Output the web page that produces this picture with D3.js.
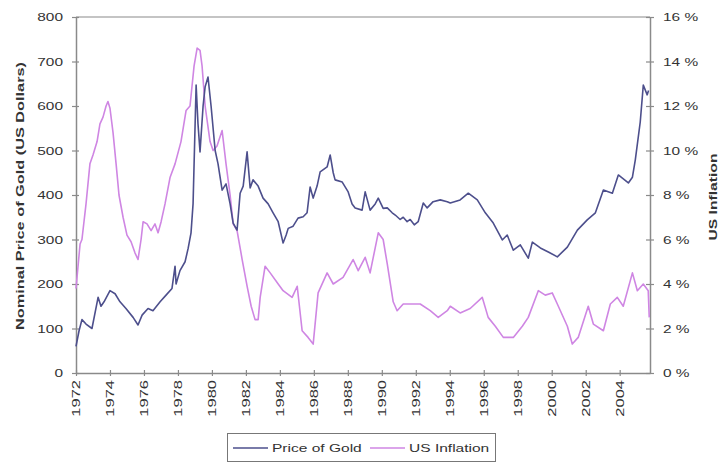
<!DOCTYPE html>
<html><head><meta charset="utf-8">
<script src="https://cdn.jsdelivr.net/npm/d3@7"></script>
<style>
html,body{margin:0;padding:0;background:#fff;}
svg{display:block;font-family:"Liberation Sans",Arial,sans-serif;}
</style></head>
<body><svg id="c" width="720" height="463"></svg>
<script>
const goldYear = [1972.00,1972.18,1972.35,1972.59,1972.94,1973.30,1973.47,1973.65,1974.00,1974.30,1974.59,1974.94,1975.36,1975.65,1975.89,1976.24,1976.53,1976.95,1977.30,1977.65,1977.83,1977.89,1978.12,1978.42,1978.60,1978.77,1978.89,1979.07,1979.18,1979.30,1979.48,1979.60,1979.77,1979.95,1980.19,1980.36,1980.60,1980.83,1981.07,1981.25,1981.48,1981.66,1981.84,1982.07,1982.25,1982.42,1982.72,1983.01,1983.31,1983.60,1983.90,1984.19,1984.37,1984.49,1984.78,1985.07,1985.37,1985.60,1985.78,1985.96,1986.19,1986.37,1986.78,1986.96,1987.14,1987.25,1987.67,1988.02,1988.25,1988.43,1988.84,1989.02,1989.31,1989.61,1989.79,1990.08,1990.32,1990.61,1990.79,1991.08,1991.26,1991.49,1991.67,1991.91,1992.14,1992.44,1992.67,1993.02,1993.44,1993.85,1994.03,1994.61,1995.09,1995.62,1996.09,1996.56,1997.09,1997.38,1997.74,1998.15,1998.62,1998.86,1999.33,1999.80,2000.33,2000.92,2001.51,2002.09,2002.57,2003.04,2003.57,2003.92,2004.51,2004.75,2004.92,2005.21,2005.39,2005.62,2005.70];
const goldPrice = [60,95,120,110,100,170,150,160,185,178,160,145,125,108,130,145,140,160,175,190,240,200,230,250,280,315,380,647,560,497,600,643,665,600,500,470,411,425,380,337,321,404,420,497,416,434,420,393,380,360,340,292,310,325,330,348,351,360,418,393,420,452,463,490,450,434,429,407,380,371,366,407,366,380,393,370,371,360,355,345,350,340,345,333,340,382,371,385,389,385,382,389,404,389,360,337,299,310,276,288,258,294,281,272,261,283,321,344,360,411,404,445,427,440,479,564,647,625,635];

const inflYear = [1972.00,1972.12,1972.24,1972.35,1972.59,1972.82,1973.00,1973.24,1973.41,1973.59,1973.77,1973.88,1974.00,1974.18,1974.36,1974.53,1974.77,1975.00,1975.24,1975.47,1975.65,1975.83,1975.95,1976.18,1976.42,1976.65,1976.83,1977.01,1977.24,1977.54,1977.83,1978.18,1978.48,1978.71,1978.95,1979.13,1979.30,1979.42,1979.60,1979.89,1980.07,1980.30,1980.60,1980.83,1981.07,1981.25,1981.48,1981.78,1982.07,1982.31,1982.54,1982.72,1982.84,1983.13,1983.43,1983.90,1984.19,1984.72,1985.02,1985.31,1985.66,1985.96,1986.25,1986.78,1987.14,1987.72,1988.31,1988.61,1989.02,1989.31,1989.79,1990.08,1990.32,1990.67,1990.90,1991.26,1992.26,1992.85,1993.32,1993.85,1994.03,1994.61,1995.20,1995.91,1996.26,1996.68,1997.15,1997.74,1998.27,1998.62,1999.21,1999.62,2000.03,2000.33,2000.92,2001.21,2001.56,2002.15,2002.45,2003.04,2003.45,2003.86,2004.21,2004.75,2005.04,2005.39,2005.68,2005.74];
const inflRate = [3.8,4.8,5.8,6.0,7.6,9.4,9.8,10.4,11.2,11.5,12.0,12.2,11.9,10.8,9.4,8.0,7.0,6.2,5.9,5.4,5.1,6.0,6.8,6.7,6.4,6.7,6.3,6.8,7.6,8.8,9.4,10.4,11.8,12.0,13.8,14.6,14.5,13.8,12.0,10.4,10.0,10.2,10.9,9.4,8.0,6.7,6.4,5.1,3.9,3.0,2.4,2.4,3.4,4.8,4.5,4.0,3.7,3.4,3.9,1.9,1.6,1.3,3.6,4.5,4.0,4.3,5.1,4.6,5.2,4.5,6.3,6.0,4.9,3.2,2.8,3.1,3.1,2.8,2.5,2.8,3.0,2.7,2.9,3.4,2.5,2.1,1.6,1.6,2.1,2.5,3.7,3.5,3.6,3.1,2.1,1.3,1.6,3.0,2.2,1.9,3.1,3.4,3.0,4.5,3.7,4.0,3.7,2.5];

const xTicks = d3.range(1972, 2005, 2);
const leftTicks = [0,100,200,300,400,500,600,700,800];
const rightTicks = [0,2,4,6,8,10,12,14,16];
const seriesNames = ["Price of Gold","US Inflation"];
const leftTitle = "Nominal Price of Gold (US Dollars)";
const rightTitle = "US Inflation";

const goldColor = "#4d4f8c", inflColor = "#cf86e3", axisColor = "#8a8a8a", textColor = "#333";
const L = 76, R = 650, T = 17, B = 373;

const svg = d3.select("#c");
const x = d3.scaleLinear().domain([1972, 1972 + (R - L) / 16.99]).range([L, R]);
const yL = d3.scaleLinear().domain([0, 800]).range([B, T]);
const yR = d3.scaleLinear().domain([0, 16]).range([B, T]);

function stretch(sel, f) {
  sel.each(function () {
    const w = this.getComputedTextLength();
    d3.select(this).attr("textLength", w * f).attr("lengthAdjust", "spacingAndGlyphs");
  });
}

// top border
svg.append("line").attr("x1", L).attr("x2", R).attr("y1", T).attr("y2", T)
  .attr("stroke", axisColor).attr("stroke-width", 1.2);

// left axis
const gL = svg.append("g").attr("transform", `translate(${L},0)`)
  .call(d3.axisLeft(yL).tickValues(leftTicks).tickSize(4).tickPadding(9).tickSizeOuter(0));
// right axis
const gR = svg.append("g").attr("transform", `translate(${R},0)`)
  .call(d3.axisRight(yR).tickValues(rightTicks).tickSize(4).tickPadding(9).tickSizeOuter(0)
    .tickFormat(d => d + " %"));
// bottom axis
const gB = svg.append("g").attr("transform", `translate(0,${B})`)
  .call(d3.axisBottom(x).tickValues(xTicks).tickSize(3).tickSizeOuter(0).tickFormat(d3.format("d")));

[gL, gR, gB].forEach(g => {
  g.select(".domain").attr("stroke", axisColor).attr("stroke-width", 1.5);
  g.selectAll(".tick line").attr("stroke", axisColor).attr("stroke-width", 1.2);
  g.selectAll("text").attr("fill", textColor).style("font-size", "11px");
});
// ticks crossing the axis
gL.selectAll(".tick line").attr("x1", 3);
gR.selectAll(".tick line").attr("x1", -4);
gB.selectAll(".tick line").attr("y1", -3);

gL.selectAll(".tick text").attr("x", -13);
gR.selectAll(".tick text").attr("x", 13);
gB.selectAll(".tick text")
  .attr("transform", "rotate(-90)")
  .attr("text-anchor", "end").attr("dy", "0.35em")
  .attr("x", -7).attr("y", 0);

stretch(gL.selectAll(".tick text"), 1.4);
stretch(gR.selectAll(".tick text"), 1.4);
stretch(gB.selectAll(".tick text"), 1.5);

// axis titles
const lt = svg.append("text").attr("transform", "translate(24,196) rotate(-90)")
  .attr("text-anchor", "middle").attr("fill", textColor)
  .style("font-size", "11.5px").style("font-weight", "bold").text(leftTitle);
lt.attr("textLength", 268).attr("lengthAdjust", "spacingAndGlyphs");
const rt = svg.append("text").attr("transform", "translate(717,197) rotate(-90)")
  .attr("text-anchor", "middle").attr("fill", textColor)
  .style("font-size", "11.5px").style("font-weight", "bold").text(rightTitle);
rt.attr("textLength", 87).attr("lengthAdjust", "spacingAndGlyphs");

// lines
const gold = goldYear.map((d, i) => [d, goldPrice[i]]);
const infl = inflYear.map((d, i) => [d, inflRate[i]]);
svg.append("path").datum(infl)
  .attr("fill", "none").attr("stroke", inflColor).attr("stroke-width", 1.6).attr("stroke-linejoin", "round")
  .attr("d", d3.line().x(d => x(d[0])).y(d => yR(d[1])));
svg.append("path").datum(gold)
  .attr("fill", "none").attr("stroke", goldColor).attr("stroke-width", 1.6).attr("stroke-linejoin", "round")
  .attr("d", d3.line().x(d => x(d[0])).y(d => yL(d[1])));

// legend
const lg = svg.append("g");
lg.append("rect").attr("x", 227.5).attr("y", 433.5).attr("width", 268).attr("height", 28)
  .attr("fill", "#fff").attr("stroke", "#777").attr("stroke-width", 1);
const items = [{name: seriesNames[0], color: goldColor, x: 233}, {name: seriesNames[1], color: inflColor, x: 370}];
items.forEach(it => {
  lg.append("line").attr("x1", it.x).attr("x2", it.x + 35).attr("y1", 448).attr("y2", 448)
    .attr("stroke", it.color).attr("stroke-width", 1.6);
  const t = lg.append("text").attr("x", it.x + 39).attr("y", 448).attr("dy", "0.35em")
    .attr("fill", textColor).style("font-size", "11.5px").text(it.name);
  stretch(t, 1.35);
});
</script></body></html>
